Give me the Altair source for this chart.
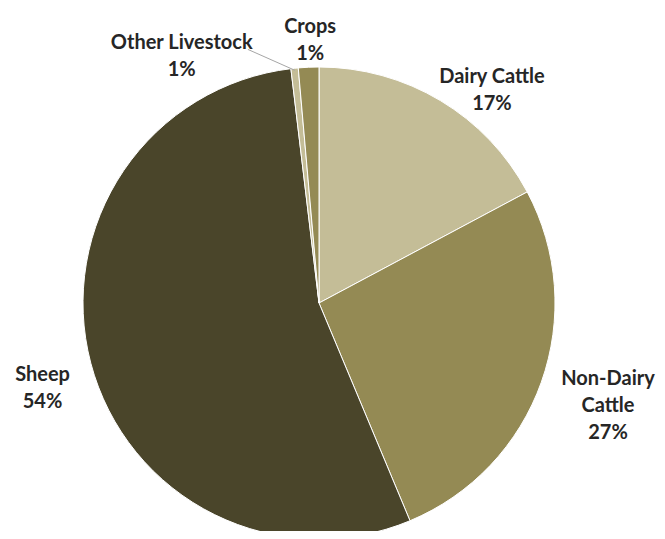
import altair as alt
import pandas as pd

# ---- data ----
categories = ["Dairy Cattle", "Non-Dairy Cattle", "Sheep", "Other Livestock", "Crops"]
shares = [17.2, 26.5, 54.4, 0.5, 1.4]
pct_labels = ["17%", "27%", "54%", "1%", "1%"]
label_names = ["Dairy Cattle", "Non-Dairy\nCattle", "Sheep", "Other Livestock", "Crops"]

# ---- styling / layout ----
colors = ["#C4BD97", "#948A54", "#4A452A", "#C4BD97", "#948A54"]
CX, CY, R = 311, 295, 236
FONT = "Lato"
FS = 20
TXT = "#262626"
# per-label placement: (radius, dx, dy)
label_place = {
    "Dairy Cattle": (274, 32, 9),
    "Non-Dairy Cattle": (310, -3, -28),
    "Sheep": (290, 4, -2),
    "Other Livestock": (283, -108, 21),
    "Crops": (270, 3, -6.5),
}

df = pd.DataFrame({
    "idx": list(range(len(categories))),
    "cat": categories,
    "share": shares,
    "label": [n + "\n" + p for n, p in zip(label_names, pct_labels)],
})

base = alt.Chart(df).encode(
    theta=alt.Theta("share:Q", stack=True),
    order=alt.Order("idx:Q"),
    x=alt.value(CX),
    y=alt.value(CY),
)

arcs = base.mark_arc(outerRadius=R, stroke="white", strokeWidth=1).encode(
    color=alt.Color("cat:N", scale=alt.Scale(domain=categories, range=colors), legend=None)
)

layers = [arcs]
for c in categories:
    r, dx, dy = label_place[c]
    t = base.transform_calculate(
        txt=f"datum.cat == '{c}' ? datum.label : ''"
    ).mark_text(
        radius=r, dx=dx, dy=dy, lineBreak="\n", font=FONT, fontSize=FS,
        fontWeight="bold", color=TXT, align="center", baseline="middle", lineHeight=27,
    ).encode(text="txt:N")
    layers.append(t)

leader = alt.Chart(df).transform_window(
    cum="sum(share)", sort=[alt.SortField("idx")], frame=[None, 0]
).transform_joinaggregate(total="sum(share)").transform_calculate(
    mid="2*PI*(datum.cum - datum.share/2)/datum.total"
).transform_calculate(
    lx1=f"{CX} + {R - 2}*sin(datum.mid)",
    ly1=f"{CY} - {R - 2}*cos(datum.mid)",
    lx2=f"{CX} + 262*sin(datum.mid) - 44",
    ly2=f"{CY} - 262*cos(datum.mid) + 7",
).transform_filter(alt.datum.cat == "Other Livestock").mark_rule(
    color="#A6A6A6", strokeWidth=1
).encode(
    x=alt.X("lx1:Q", scale=None),
    y=alt.Y("ly1:Q", scale=None),
    x2="lx2:Q",
    y2="ly2:Q",
)
layers.append(leader)

chart = alt.layer(*layers).properties(
    width=649, height=523, padding=0,
    autosize=alt.AutoSizeParams(type="none"),
).configure_view(stroke=None)

chart.save("out.html", embed_options={"renderer": "svg", "actions": False})
